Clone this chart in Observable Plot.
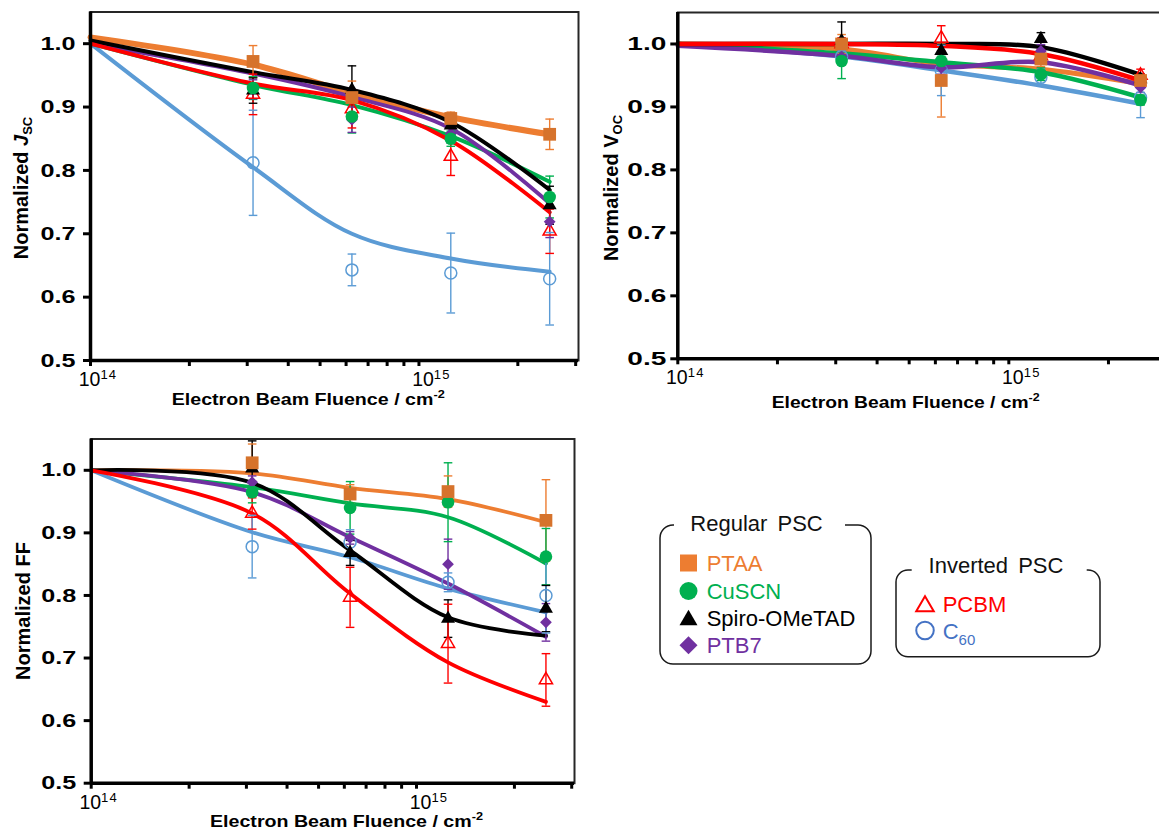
<!DOCTYPE html>
<html>
<head>
<meta charset="utf-8">
<script src="https://cdn.jsdelivr.net/npm/d3@7"></script>
<script src="https://cdn.jsdelivr.net/npm/@observablehq/plot@0.6"></script>
<style>
  html, body { margin: 0; padding: 0; background: #fff; overflow: hidden; }
  #figure { position: relative; width: 1159px; height: 834px; overflow: hidden;
            font-family: "Liberation Sans", Arial, sans-serif; }
  #figure > svg { position: absolute; max-width: none; }
</style>
</head>
<body>
<div id="figure"></div>
<script>
// Electron fluence steps (cm^-2); the first one is the pristine reference (normalised to 1)
const fluence = [1e14, 3.125e14, 6.25e14, 1.25e15, 2.5e15];
const materials = ["PTAA", "CuSCN", "Spiro-OMeTAD", "PTB7", "PCBM", "C60"];
const regularPSC = ["PTAA", "CuSCN", "Spiro-OMeTAD", "PTB7"];
const invertedPSC = ["PCBM", "C60"];

const xMajorTicks = [1e14, 1e15];
const xMinorTicks = [2e14, 3e14, 4e14, 5e14, 6e14, 7e14, 8e14, 9e14, 2e15, 3e15];
const yTicks = [0.5, 0.6, 0.7, 0.8, 0.9, 1.0];

// Rows follow `materials`; mean/err columns are the four irradiated fluences,
// fit columns cover all five fluences.
const jscMean = [
  [0.972, 0.915, 0.882, 0.857],
  [0.930, 0.885, 0.850, 0.758],
  [0.926, 0.927, 0.871, 0.745],
  [0.928, 0.880, 0.858, 0.719],
  [0.920, 0.897, 0.822, 0.704],
  [0.812, 0.643, 0.638, 0.629]
];
const jscErr = [
  [0.025, 0.026, 0.010, 0.024],
  [0.018, 0.026, 0.012, 0.033],
  [0.020, 0.038, 0.012, 0.030],
  [0.015, 0.020, 0.015, 0.025],
  [0.032, 0.030, 0.030, 0.035],
  [0.083, 0.025, 0.063, 0.073]
];
const jscFit = [
  [1.010, 0.967, 0.922, 0.884, 0.857],
  [1.000, 0.935, 0.903, 0.854, 0.782],
  [1.005, 0.955, 0.927, 0.876, 0.769],
  [1.000, 0.953, 0.916, 0.866, 0.748],
  [1.000, 0.937, 0.911, 0.847, 0.734],
  [1.000, 0.805, 0.700, 0.661, 0.640]
];

const vocMean = [
  [1.000, 0.942, 0.976, 0.942],
  [0.973, 0.973, 0.952, 0.911],
  [1.005, 0.989, 1.008, 0.944],
  [0.980, 0.962, 0.989, 0.931],
  [1.000, 1.009, 0.981, 0.950],
  [0.980, 0.958, 0.947, 0.915]
];
const vocErr = [
  [0.015, 0.058, 0.012, 0.010],
  [0.028, 0.010, 0.010, 0.008],
  [0.030, 0.010, 0.010, 0.008],
  [0.010, 0.010, 0.010, 0.008],
  [0.010, 0.020, 0.010, 0.010],
  [0.010, 0.040, 0.013, 0.032]
];
const vocFit = [
  [1.000, 0.992, 0.968, 0.960, 0.937],
  [1.000, 0.985, 0.971, 0.955, 0.915],
  [1.000, 1.000, 1.000, 0.995, 0.951],
  [0.997, 0.981, 0.963, 0.971, 0.934],
  [1.000, 1.000, 0.997, 0.984, 0.942],
  [1.000, 0.980, 0.958, 0.934, 0.905]
];

const ffMean = [
  [1.012, 0.962, 0.966, 0.920],
  [0.965, 0.940, 0.949, 0.862],
  [1.003, 0.868, 0.763, 0.779],
  [0.981, 0.892, 0.850, 0.757],
  [0.931, 0.797, 0.723, 0.665],
  [0.878, 0.885, 0.821, 0.800]
];
const ffErr = [
  [0.030, 0.015, 0.025, 0.065],
  [0.017, 0.042, 0.063, 0.045],
  [0.044, 0.020, 0.030, 0.037],
  [0.010, 0.010, 0.040, 0.030],
  [0.025, 0.048, 0.063, 0.042],
  [0.050, 0.020, 0.015, 0.060]
];
const ffFit = [
  [1.000, 0.995, 0.972, 0.954, 0.917],
  [1.000, 0.973, 0.947, 0.925, 0.851],
  [1.000, 0.980, 0.872, 0.765, 0.736],
  [1.000, 0.965, 0.893, 0.819, 0.734],
  [1.000, 0.931, 0.803, 0.693, 0.630],
  [1.000, 0.901, 0.861, 0.811, 0.773]
];

// ---- appearance ----
const FONT = '"Liberation Sans", Arial, sans-serif';
const style = {
  "PTAA":         {line: "#ED7D31", marker: "#D6732C", text: "#ED7D31", symbol: "square",   r: 7.2, hollow: false},
  "CuSCN":        {line: "#00B050", marker: "#00B050", text: "#00B050", symbol: "circle",   r: 6.3, hollow: false},
  "Spiro-OMeTAD": {line: "#000000", marker: "#000000", text: "#000000", symbol: "triangle", r: 5.2, hollow: false},
  "PTB7":         {line: "#7030A0", marker: "#7030A0", text: "#7030A0", symbol: "diamond2", r: 5.3, hollow: false},
  "PCBM":         {line: "#FF0000", marker: "#FF0000", text: "#FF0000", symbol: "triangle", r: 4.9, hollow: true},
  "C60":          {line: "#5B9BD5", marker: "#5B9BD5", text: "#4472C4", symbol: "circle",   r: 6.0, hollow: true}
};
const lineOrder = ["C60", "PTAA", "CuSCN", "PTB7", "Spiro-OMeTAD", "PCBM"];
const markerOrder = ["C60", "PCBM", "PTB7", "Spiro-OMeTAD", "CuSCN", "PTAA"];

// horizontal cap for the error bars; half-width equals the dot radius
const capSymbol = {
  draw(context, size) {
    const w = Math.sqrt(size / Math.PI);
    context.moveTo(-w, 0);
    context.lineTo(w, 0);
  }
};

const figure = document.getElementById("figure");

function styledText(parent, parts, attrs) {
  const t = parent.append("text").attr("font-family", FONT).attr("fill", "#000")
    .attr("text-anchor", "start");
  for (const [k, v] of Object.entries(attrs)) t.attr(k, v);
  for (const p of parts) {
    const ts = t.append("tspan").text(p.text);
    for (const [k, v] of Object.entries(p)) if (k !== "text") ts.attr(k, v);
  }
  return t;
}

function panel(cfg) {
  const points = materials.flatMap((m, i) => cfg.mean[i].map((v, j) => ({
    material: m, x: fluence[j + 1], y: v, lo: v - cfg.err[i][j], hi: v + cfg.err[i][j]
  })));
  const fits = materials.flatMap((m, i) => cfg.fit[i].map((v, j) => ({material: m, x: fluence[j], y: v})));

  const plot = Plot.plot({
    width: cfg.width, height: cfg.height,
    marginLeft: cfg.ml, marginRight: cfg.mr, marginTop: cfg.mt, marginBottom: cfg.mb,
    style: {fontFamily: FONT, background: "transparent", overflow: "visible"},
    x: {type: "log", domain: [1e14, 3.06e15]},
    y: {domain: [0.5, 1.05]},
    marks: [
      Plot.frame({stroke: "#262626", strokeWidth: 2}),
      ...lineOrder.map(m => Plot.line(fits.filter(d => d.material === m), {
        x: "x", y: "y", stroke: style[m].line, strokeWidth: (cfg.lineWidth[m] ?? cfg.lineWidth.default),
        curve: "catmull-rom"
      })),
      Plot.ruleX(points, {x: "x", y1: "lo", y2: "hi", stroke: d => style[d.material].line, strokeWidth: 1.4}),
      Plot.dot(points, {x: "x", y: "lo", symbol: capSymbol, r: 4.3, stroke: d => style[d.material].line, strokeWidth: 1.4}),
      Plot.dot(points, {x: "x", y: "hi", symbol: capSymbol, r: 4.3, stroke: d => style[d.material].line, strokeWidth: 1.4}),
      ...markerOrder.map(m => Plot.dot(points.filter(d => d.material === m), {
        x: "x", y: "y", symbol: style[m].symbol, r: style[m].r,
        fill: style[m].hollow ? "none" : style[m].marker,
        stroke: style[m].hollow ? style[m].marker : "none",
        strokeWidth: 1.5
      })),
      Plot.ruleX([1e14], {stroke: "#000", strokeWidth: 3.5}),
      Plot.ruleY([0.5], {stroke: "#000", strokeWidth: 3.5}),
      Plot.axisY({ticks: yTicks, tickSize: 7, tickPadding: cfg.yPad, tickFormat: d3.format(".1f"),
                  strokeWidth: 3, label: null}),
      Plot.axisX({ticks: [...xMajorTicks, ...xMinorTicks], tickSize: 6, strokeWidth: 3,
                  tickFormat: () => "", label: null})
    ]
  });

  const s = d3.select(plot);
  s.selectAll('g[aria-label="y-axis tick label"] text')
    .attr("font-weight", "bold").attr("font-size", 19)
    .attr("textLength", cfg.yTickLen).attr("lengthAdjust", "spacingAndGlyphs");
  s.selectAll('g[aria-label="x-axis tick label"]').remove();

  const xs = plot.scale("x");
  const bottom = cfg.height - cfg.mb;
  const g = s.append("g");
  // decade labels 10^n
  xMajorTicks.forEach((d, i) => {
    styledText(g, [
      {text: "10"},
      {text: String(Math.round(Math.log10(d))), "font-size": 13, dy: -7, "letter-spacing": 1.2}
    ], {x: xs.apply(d) + (i === 0 ? 8 : 13), y: bottom + 26, "text-anchor": "middle", "font-size": 19.5});
  });
  // x title
  styledText(g, [
    {text: "Electron Beam Fluence / cm"},
    {text: "-2", "font-size": 11, dy: -7}
  ], {x: cfg.titleX, y: cfg.titleY, "font-size": 17, "font-weight": "bold",
      textLength: cfg.titleLen, lengthAdjust: "spacingAndGlyphs"});
  // y title
  styledText(g, cfg.yLabel, {
    transform: `translate(${cfg.yLabelX},${cfg.yLabelY}) rotate(-90)`,
    "text-anchor": "middle", "font-size": 20, "font-weight": "bold"
  });

  plot.style.left = cfg.left + "px";
  plot.style.top = cfg.top + "px";
  figure.appendChild(plot);
}

panel({
  mean: jscMean, err: jscErr, fit: jscFit,
  left: 0, top: 0, width: 600, height: 410, ml: 90, mr: 22, mt: 11.5, mb: 50,
  lineWidth: {default: 4, "PTAA": 6}, yPad: 8, yTickLen: 35,
  titleX: 171.7, titleY: 405, titleLen: 273,
  yLabelX: 28.3, yLabelY: 188,
  yLabel: [{text: "Normalized "}, {text: "J", "font-style": "italic"}, {text: "SC", "font-size": 13, dy: 4}]
});

panel({
  mean: vocMean, err: vocErr, fit: vocFit,
  left: 590, top: 0, width: 600, height: 410, ml: 87.3, mr: 20.9, mt: 12, mb: 51.7,
  lineWidth: {default: 4.5, "PTAA": 5}, yPad: 4.5, yTickLen: 39,
  titleX: 181.7, titleY: 408.3, titleLen: 268,
  yLabelX: 28.3, yLabelY: 188,
  yLabel: [{text: "Normalized V"}, {text: "OC", "font-size": 13, dy: 4}]
});

panel({
  mean: ffMean, err: ffErr, fit: ffFit,
  left: 0, top: 420, width: 600, height: 414, ml: 90.7, mr: 26, mt: 18.5, mb: 51.3,
  lineWidth: {default: 3.8}, yPad: 8, yTickLen: 35,
  titleX: 210, titleY: 406.7, titleLen: 273,
  yLabelX: 30, yLabelY: 191,
  yLabel: [{text: "Normalized FF"}]
});

// ---- legend: two rounded boxes with the title set into the top border ----
const legend = d3.create("svg")
  .attr("width", 519).attr("height", 190)
  .style("left", "640px").style("top", "500px");

function legendBox(x0, x1, y0, y1, r, gapL, gapR) {
  legend.append("path")
    .attr("d", `M${gapR},${y0} H${x1 - r} A${r},${r} 0 0 1 ${x1},${y0 + r} V${y1 - r}
                A${r},${r} 0 0 1 ${x1 - r},${y1} H${x0 + r} A${r},${r} 0 0 1 ${x0},${y1 - r}
                V${y0 + r} A${r},${r} 0 0 1 ${x0 + r},${y0} H${gapL}`)
    .attr("fill", "none").attr("stroke", "#1a1a1a").attr("stroke-width", 1.5);
}

const legendSymbols = {
  square: {type: d3.symbolSquare, size: 289},
  circle: {type: d3.symbolCircle, size: 254},
  triangle: {type: d3.symbolTriangle, size: 140},
  diamond2: {type: d3.symbolDiamond2, size: 206}
};

function legendItem(m, mx, tx, baseline) {
  const st = style[m];
  const sym = legendSymbols[st.symbol];
  const size = st.hollow ? sym.size * 0.95 : sym.size;
  const dy = st.symbol === "triangle" ? 2.6 : 0;
  legend.append("path")
    .attr("d", d3.symbol(sym.type, size)())
    .attr("transform", `translate(${mx},${baseline - 8 + dy})`)
    .attr("fill", st.hollow ? "none" : (m === "PTAA" ? st.line : st.marker))
    .attr("stroke", st.hollow ? st.text : "none")
    .attr("stroke-width", 2);
  const parts = m === "C60"
    ? [{text: "C"}, {text: "60", "font-size": 15, dy: 6}]
    : [{text: m}];
  styledText(legend, parts, {x: tx, y: baseline, "font-size": 22, fill: st.text});
}

legendBox(20, 231, 25, 164, 13, 34, 205);
styledText(legend, [{text: "Regular PSC"}], {x: 116.5, y: 30.7, "text-anchor": "middle", "font-size": 22,
  "word-spacing": 4, fill: "#111"});
regularPSC.forEach((m, i) => legendItem(m, 48.5, 66.7, [71, 99, 125.5, 153.3][i]));

legendBox(256, 460, 70, 156.7, 12, 271.7, 446.7);
styledText(legend, [{text: "Inverted PSC"}], {x: 356, y: 72.7, "text-anchor": "middle", "font-size": 22,
  "word-spacing": 4, fill: "#111"});
invertedPSC.forEach((m, i) => legendItem(m, 285, 302.7, [111.7, 138.5][i]));

figure.appendChild(legend.node());
</script>
</body>
</html>
